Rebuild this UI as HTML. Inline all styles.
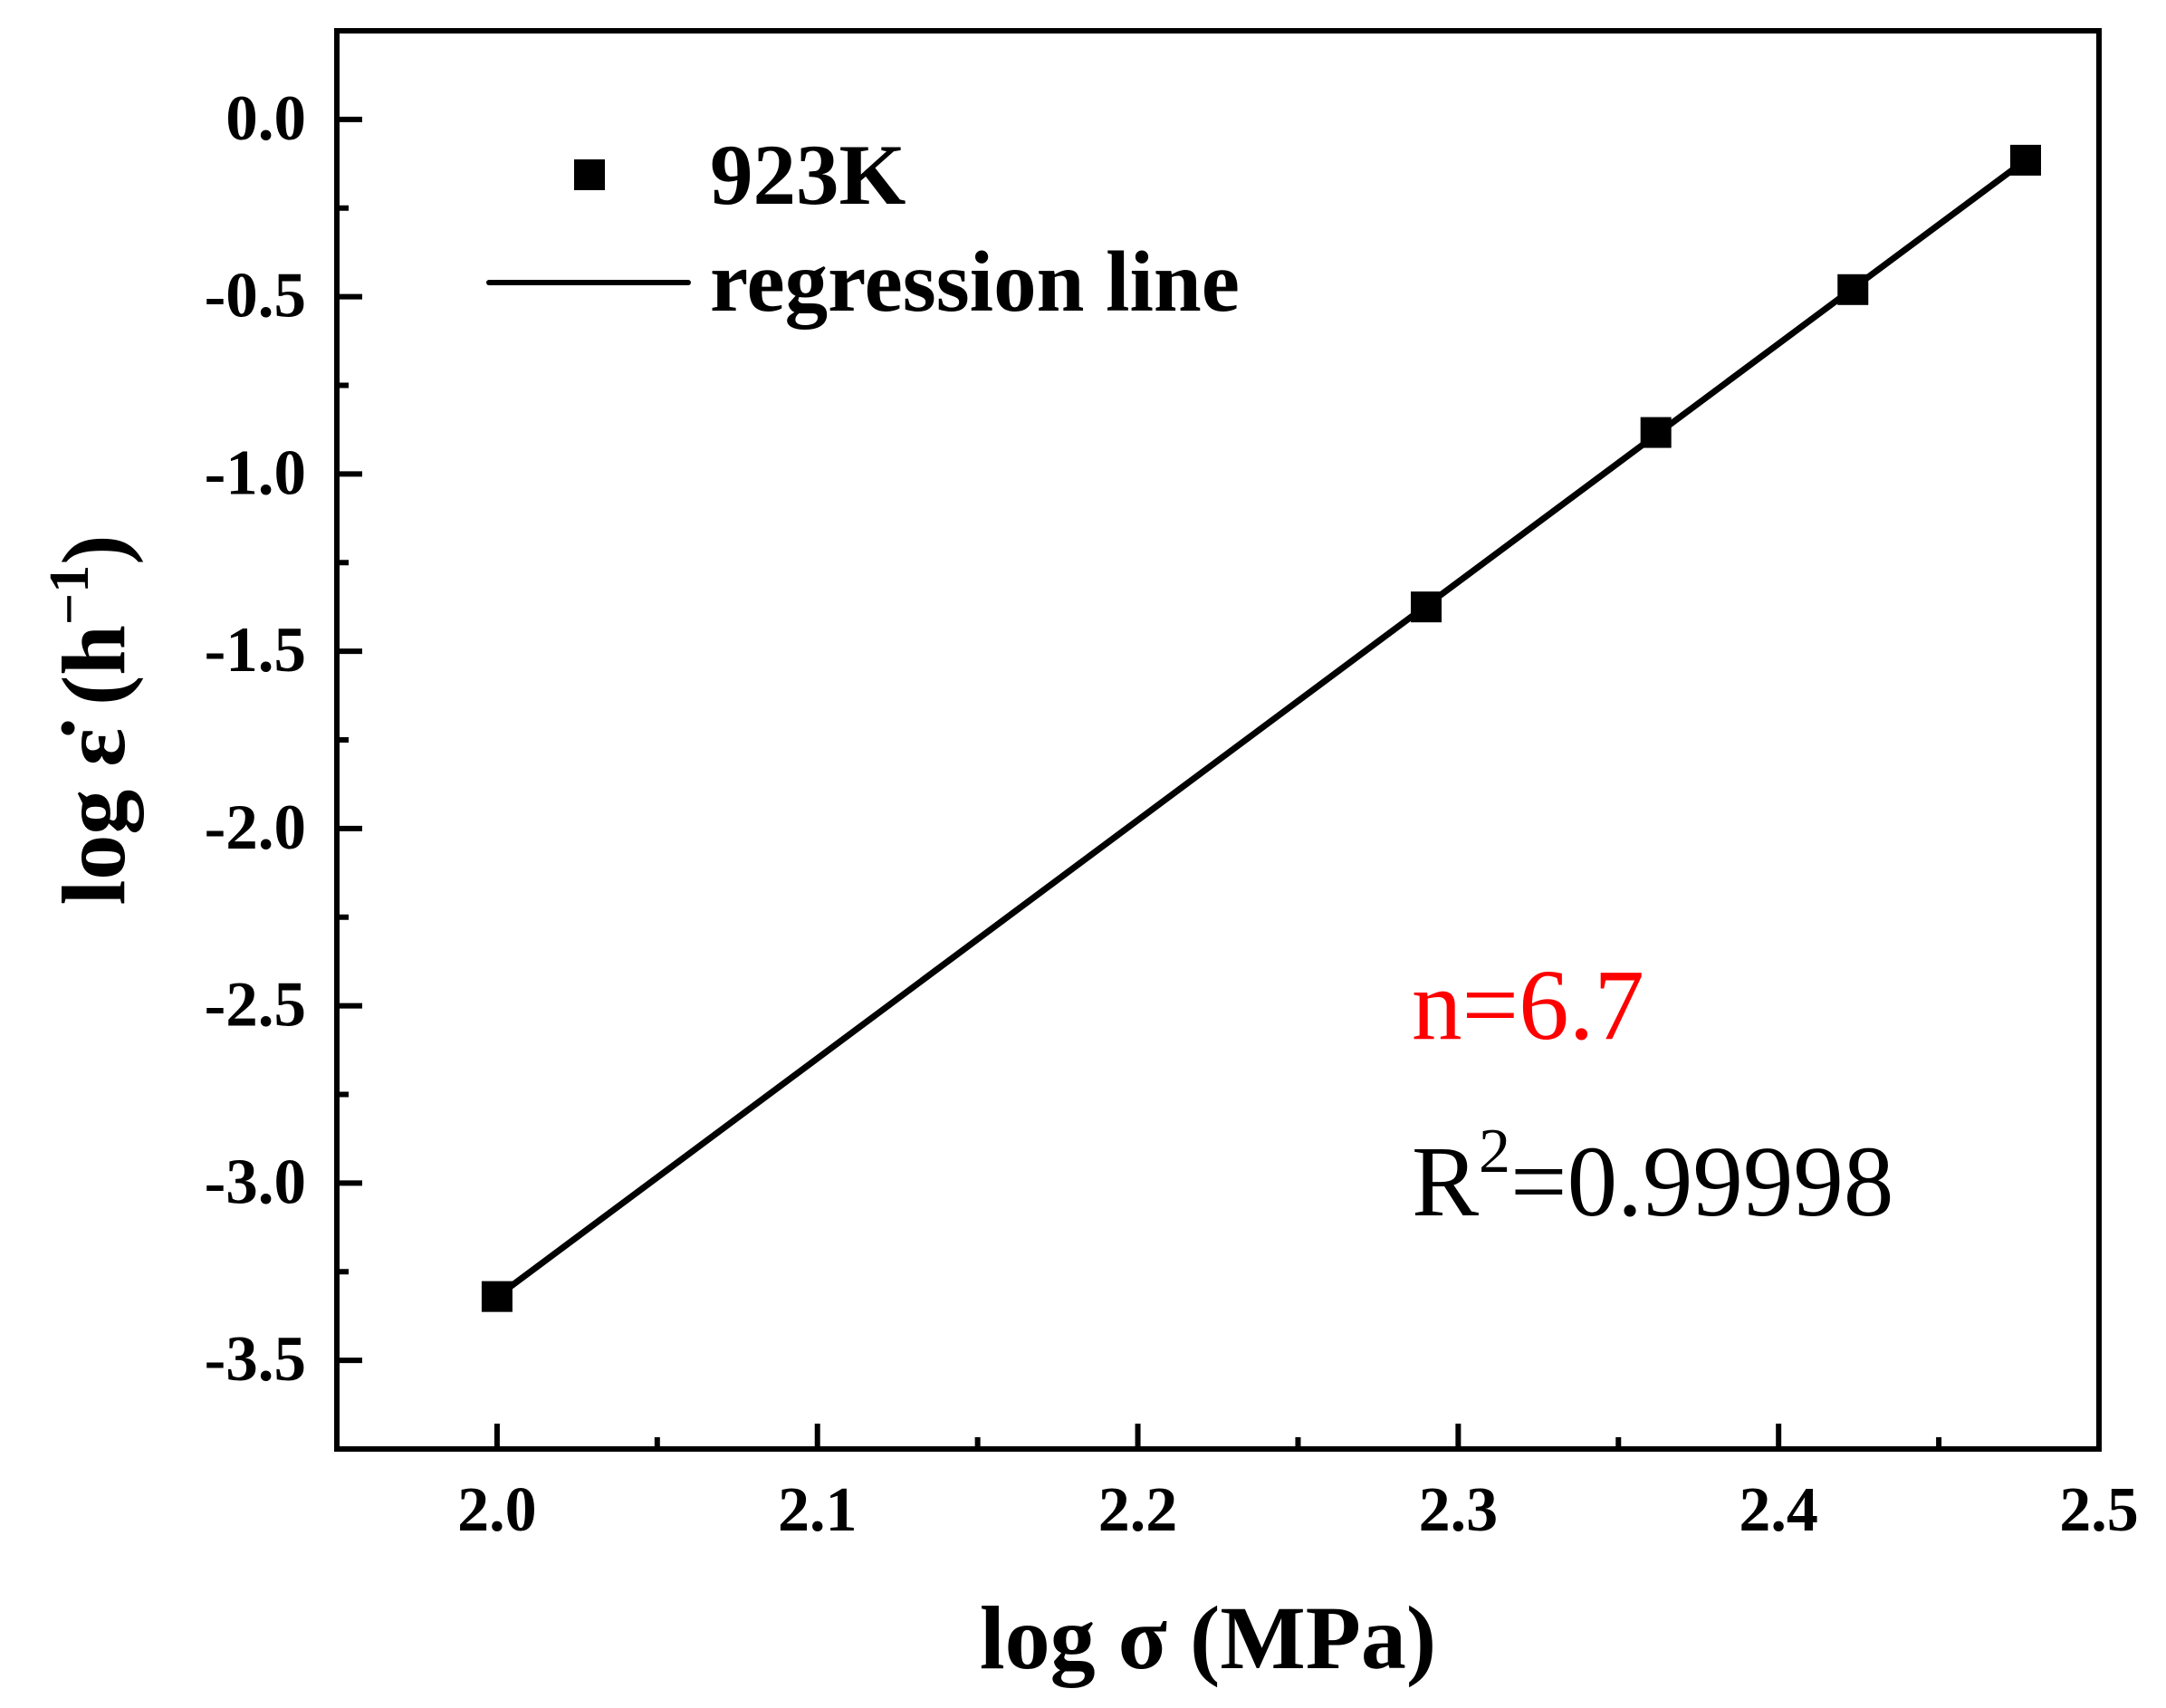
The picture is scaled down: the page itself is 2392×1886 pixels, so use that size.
<!DOCTYPE html>
<html><head><meta charset="utf-8"><style>
html,body{margin:0;padding:0;background:#fff}
svg{display:block}
text{font-family:"Liberation Serif","DejaVu Serif",serif}
</style></head><body>
<svg id="chart" xmlns="http://www.w3.org/2000/svg" width="2392" height="1886" viewBox="0 0 2392 1886">
<rect x="0" y="0" width="2392" height="1886" fill="#fff"/>
<g id="ticks"></g>
<g id="labels"></g>
<g id="plot"></g>
<rect x="372" y="34" width="1946" height="1566" fill="none" stroke="#000" stroke-width="6"/>
<g>
<rect x="634" y="176" width="34" height="34" fill="#000"/>
<text x="784" y="225" font-size="95" font-weight="bold">923K</text>
<line x1="540" y1="312" x2="760" y2="312" stroke="#000" stroke-width="6" stroke-linecap="round"/>
<text x="784" y="343" font-size="95" font-weight="bold">regression line</text>
</g>
<text x="1559" y="1147" font-size="111" fill="#ff0000">n=6.7</text>
<text x="1559" y="1342" font-size="111">R<tspan font-size="70" dy="-48">2</tspan><tspan dy="48">=0.99998</tspan></text>
<text x="1334" y="1842" font-size="100" font-weight="bold" text-anchor="middle">log σ (MPa)</text>
<text transform="translate(137,795) rotate(-90)" font-size="100" font-weight="bold" text-anchor="middle">log ε̇ (h<tspan font-size="62" dy="-40">−1</tspan><tspan dy="40">)</tspan></text>
</svg>
<script>
const xTicks = [2.0, 2.1, 2.2, 2.3, 2.4, 2.5];
const xTickLabels = ["2.0", "2.1", "2.2", "2.3", "2.4", "2.5"];
const yTicks = [0.0, -0.5, -1.0, -1.5, -2.0, -2.5, -3.0, -3.5];
const yTickLabels = ["0.0", "-0.5", "-1.0", "-1.5", "-2.0", "-2.5", "-3.0", "-3.5"];
const logStress = [2.0, 2.2900, 2.3617, 2.4232, 2.4771];
const logRate = [-3.32, -1.375, -0.883, -0.480, -0.115];

const NS = "http://www.w3.org/2000/svg";
const X0 = 1.95, X1 = 2.5, PX0 = 372, PX1 = 2318;
const Y0 = -3.75, Y1 = 0.25, PY0 = 1600, PY1 = 34;
function sx(v){ return PX0 + (v - X0) / (X1 - X0) * (PX1 - PX0); }
function sy(v){ return PY0 - (v - Y0) / (Y1 - Y0) * (PY0 - PY1); }
function mk(tag, attrs, parent){
  const e = document.createElementNS(NS, tag);
  for (const k in attrs) e.setAttribute(k, attrs[k]);
  parent.appendChild(e);
  return e;
}
const ticksG = document.getElementById('ticks');
const labelsG = document.getElementById('labels');
const plotG = document.getElementById('plot');

for (let i = 0; i < xTicks.length; i++) {
  const x = sx(xTicks[i]);
  const t = mk('line', {x1:x, y1:PY0, x2:x, y2:PY0-28, stroke:'#000', 'stroke-width':6}, ticksG);
  
  
  const l = mk('text', {x:x, y:1690, 'font-size':70, 'font-weight':'bold', 'text-anchor':'middle'}, labelsG);
  l.textContent = xTickLabels[i];
  
  
  if (i < xTicks.length - 1) {
    const xm = sx((xTicks[i] + xTicks[i+1]) / 2);
    const m = mk('line', {x1:xm, y1:PY0, x2:xm, y2:PY0-13, stroke:'#000', 'stroke-width':6}, ticksG);
    
    
  }
}
for (let i = 0; i < yTicks.length; i++) {
  const y = sy(yTicks[i]);
  const t = mk('line', {x1:PX0, y1:y, x2:PX0+28, y2:y, stroke:'#000', 'stroke-width':6}, ticksG);
  
  
  const l = mk('text', {x:338, y:y+22, 'font-size':71, 'font-weight':'bold', 'text-anchor':'end'}, labelsG);
  l.textContent = yTickLabels[i];
  
  
}
for (let v = 0.25; v > -3.75; v -= 0.5) {
  const y = sy(v);
  const m = mk('line', {x1:PX0, y1:y, x2:PX0+13, y2:y, stroke:'#000', 'stroke-width':6}, ticksG);
  
  
}
const n = logStress.length;
let mx = 0, my = 0;
for (let i = 0; i < n; i++) { mx += logStress[i]; my += logRate[i]; }
mx /= n; my /= n;
let sxy = 0, sxx = 0;
for (let i = 0; i < n; i++) { sxy += (logStress[i]-mx)*(logRate[i]-my); sxx += (logStress[i]-mx)**2; }
const slope = sxy / sxx, icpt = my - slope * mx;
const xa = Math.min(...logStress), xb = Math.max(...logStress);
const reg = mk('line', {x1:sx(xa), y1:sy(icpt+slope*xa), x2:sx(xb), y2:sy(icpt+slope*xb), stroke:'#000', 'stroke-width':7}, plotG);


for (let i = 0; i < n; i++) {
  const r = mk('rect', {x:sx(logStress[i])-17, y:sy(logRate[i])-17, width:34, height:34, fill:'#000'}, plotG);
  
  
}
</script>
</body></html>
